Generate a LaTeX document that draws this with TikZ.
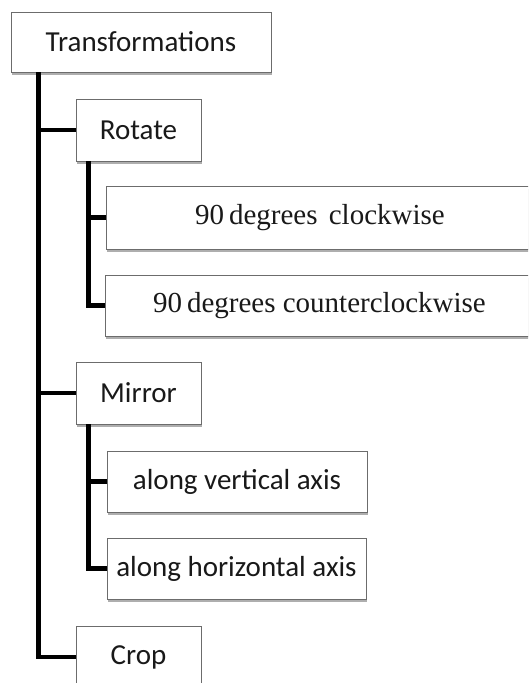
\documentclass[tikz,border=0pt]{standalone}
\usepackage{fontspec}
\setmainfont{Liberation Serif}
\newfontfamily\calfont{Carlito}
\usetikzlibrary{shadows}
\begin{document}
\begin{tikzpicture}[x=1pt,y=-1pt,
  box/.style={draw=gray!85!black, line width=0.9pt, fill=white, inner sep=0pt,
    drop shadow={shadow xshift=1pt, shadow yshift=-2.5pt, opacity=0.45, fill=black!70},
    font=\calfont\fontsize{29}{32}\selectfont, text=black!90},
  sbox/.style={box, font=\fontsize{29}{32}\selectfont},
  conn/.style={line width=4.5pt, line join=miter, black}]
\useasboundingbox (0,0) rectangle (528,683);
\clip (0,0) rectangle (528,683);
\fill[white] (0,0) rectangle (528,683);
\path
  node[box, minimum width=260pt, minimum height=60pt] (T) at (141,42) {Transformations}
  node[box, minimum width=125pt, minimum height=62pt] (R) at (138.5,130) {Rotate}
  node[sbox, minimum width=440pt, minimum height=63pt] (cw) at (326,217.5) {\hspace*{-12pt}90\,degrees \hspace{4pt}clockwise}
  node[sbox, minimum width=441pt, minimum height=61pt] (ccw) at (325.5,305.5) {\hspace*{-12pt}90\,degrees counterclockwise}
  node[box, minimum width=125pt, minimum height=62pt] (M) at (138.5,393) {Mirror}
  node[box, minimum width=260pt, minimum height=61pt] (V) at (237,481.5) {along vertical axis}
  node[box, minimum width=259pt, minimum height=61pt] (H) at (236.5,568.5) {along horizontal axis}
  node[box, minimum width=125pt, minimum height=62pt] (C) at (138.5,657) {Crop};
\draw[conn] ([xshift=28pt]T.south west) |- (R.west);
\draw[conn] ([xshift=28pt]T.south west) |- (M.west);
\draw[conn] ([xshift=28pt]T.south west) |- (C.west);
\draw[conn] ([xshift=13pt]R.south west) |- (cw.west);
\draw[conn] ([xshift=13pt]R.south west) |- (ccw.west);
\draw[conn] ([xshift=13pt]M.south west) |- (V.west);
\draw[conn] ([xshift=13pt]M.south west) |- (H.west);
\end{tikzpicture}
\end{document}
